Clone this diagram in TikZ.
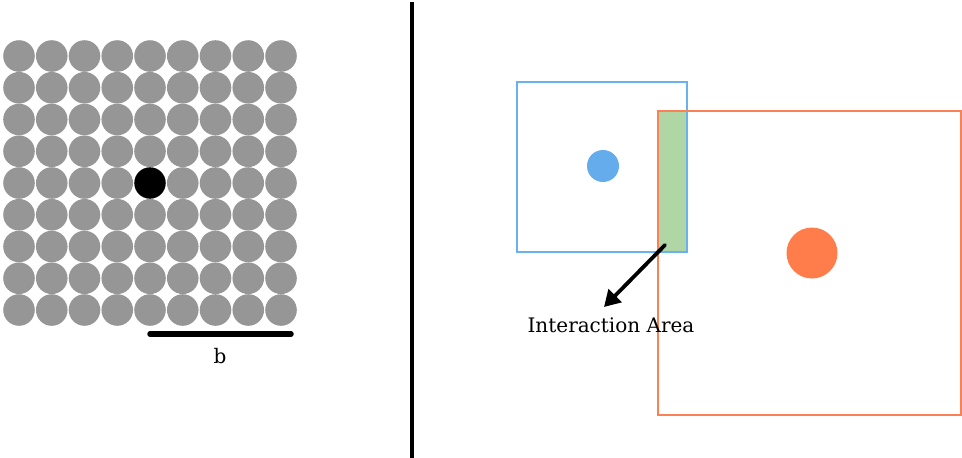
\documentclass[tikz,border=0pt]{standalone}
\usepackage{fontspec}
\setmainfont{DejaVu Serif}
\usetikzlibrary{arrows.meta}

\definecolor{particlegrey}{RGB}{150,150,150}
\definecolor{boxblue}{RGB}{105,178,240}
\definecolor{dotblue}{RGB}{100,172,236}
\definecolor{boxorange}{RGB}{250,128,85}
\definecolor{dotorange}{RGB}{255,125,75}
\definecolor{overlapgreen}{RGB}{176,214,166}

\begin{document}
\begin{tikzpicture}[x=1pt,y=-1pt,
    labeltext/.style={font=\fontsize{20}{24}\selectfont, inner sep=0pt}]
\useasboundingbox (0,0) rectangle (962,458);

% lattice of particles
\foreach \i in {0,...,8}
  \foreach \j in {0,...,8}
    \fill[particlegrey] (19+32.75*\i,56+31.75*\j) circle [radius=15.8];
\fill[black] (150,183) circle [radius=15.6]; % tagged particle

% scale bar
\coordinate (barleft) at (150,334);
\coordinate (barright) at (291,334);
\draw[line width=5.5pt, line cap=round] (barleft) -- (barright);
\node[labeltext] (blabel) at (220,356) {b};

% divider
\coordinate (divtop) at (412,2);
\coordinate (divbottom) at (412,458);
\draw[line width=3.5pt] (divtop) -- (divbottom);

% overlapping boxes
\fill[overlapgreen] (659,111) rectangle (687,252); % overlap
\draw[boxblue, line width=2.2pt] (517,82) rectangle (687,252);
\draw[boxorange, line width=2.6pt] (658,111) rectangle (961,415);
\fill[dotblue] (603,166) circle [radius=16];
\fill[dotorange] (812,253) circle [radius=25.5];

% label and arrow
\node[labeltext] (interaction) at (611,325) {Interaction Area};
\coordinate (overlapcorner) at (665,245);
\coordinate (arrowtip) at (604,307);
\draw[line width=3.8pt, line cap=round, -{Triangle[length=16pt,width=18pt]}] (overlapcorner) -- (arrowtip);
\end{tikzpicture}
\end{document}
